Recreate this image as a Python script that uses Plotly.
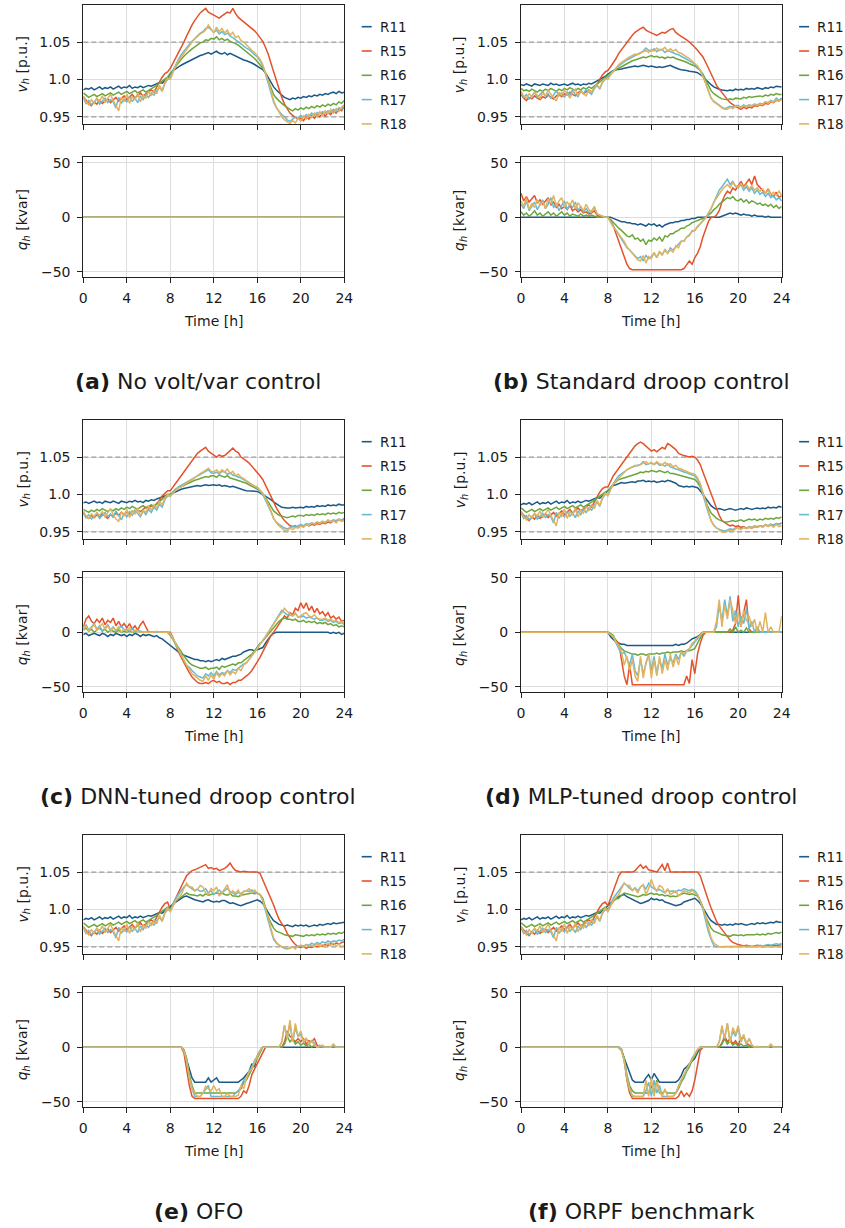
import plotly.graph_objects as go

# ---------------- data ----------------
NAMES = ["R11", "R15", "R16", "R17", "R18"]
COLORS = ["#1b5a87", "#e4522b", "#6ca63b", "#66bad4", "#e2b35f"]

T_MORN = [i * 0.25 for i in range(32)]        # 0 .. 7.75 h
T_DAY = [8 + i * 0.25 for i in range(65)]     # 8 .. 24 h
T_FULL = T_MORN + T_DAY
T_ENDS = [0, 24]
T_START = [0]
Q_NONE = [0, 0]
Q_START = [0]
V_LIMITS = [1.05, 0.95]

# voltages in milli-p.u. ; shared morning (no reactive power before 8 h): panels a, d, e, f
VM_R11 = [986,988,987,989,986,988,990,987,989,988,990,987,989,991,988,990,
          989,992,988,990,989,991,989,990,992,991,993,994,996,995,998,1001]
VM_R15 = [977,972,968,965,970,967,972,968,971,974,969,973,976,971,975,978,
          973,977,980,975,979,982,978,981,984,986,983,990,997,1003,1008,1010]
VM_R16 = [982,979,976,978,980,977,979,981,978,980,982,979,981,983,980,982,
          984,981,983,985,982,984,986,983,985,987,990,992,995,998,1000,1003]
VM_R17 = [975,968,972,966,970,974,967,971,975,969,973,970,962,976,968,974,
          970,977,971,975,969,978,973,980,976,982,979,985,990,984,995,1000]
VM_R18 = [978,970,966,973,968,975,971,978,969,974,980,972,965,958,976,970,
          981,968,977,973,982,970,979,975,984,978,986,981,992,985,996,1002]

# (a) day
VA_R11 = [1008,1012,1014,1017,1019,1021,1023,1025,1027,1029,1030,1032,1033,1035,1036,1034,
          1036,1038,1035,1034,1036,1033,1035,1033,1032,1029,1027,1026,1025,1024,1022,1020,
          1018,1016,1013,1009,1003,996,990,986,982,979,976,975,973,975,974,976,
          975,977,976,978,977,979,978,980,979,981,980,982,983,981,984,982,983]
VA_R15 = [1015,1022,1028,1034,1042,1050,1058,1066,1073,1079,1084,1089,1092,1095,1090,1088,
          1086,1084,1082,1085,1087,1090,1089,1095,1088,1083,1080,1077,1075,1072,1069,1065,
          1061,1056,1051,1043,1034,1022,1010,997,986,976,967,960,955,952,950,947,
          948,945,950,947,952,948,953,950,955,951,956,953,958,955,960,958,964]
VA_R16 = [1008,1013,1018,1023,1027,1031,1035,1038,1041,1044,1046,1049,1050,1053,1052,1055,
          1054,1057,1053,1055,1052,1054,1051,1050,1048,1046,1043,1041,1038,1035,1031,1028,
          1024,1020,1015,1008,998,988,980,975,971,968,965,962,960,958,961,959,
          962,960,963,961,964,962,965,963,966,964,967,965,968,966,970,968,972]
VA_R17 = [1003,1012,1020,1027,1033,1038,1043,1047,1051,1055,1058,1062,1064,1068,1070,1066,
          1063,1066,1061,1064,1060,1062,1058,1056,1053,1050,1048,1045,1042,1040,1036,1033,
          1030,1025,1018,1008,995,982,970,962,957,953,950,946,944,947,950,948,
          952,949,953,951,955,952,956,954,957,955,958,956,960,957,962,960,965]
VA_R18 = [1000,1010,1018,1025,1030,1036,1041,1045,1050,1054,1058,1061,1063,1066,1073,1068,
          1062,1070,1064,1068,1062,1066,1059,1063,1056,1058,1052,1050,1046,1043,1039,1036,
          1032,1027,1020,1010,998,985,972,963,957,950,946,943,941,945,942,948,
          944,951,947,953,949,955,950,957,952,958,954,960,955,961,957,963,966]

# (b) morning + day
VBM_R11 = [993,992,994,993,991,994,993,992,994,993,992,995,993,994,992,993,
           994,992,993,995,993,994,992,994,993,995,994,996,997,999,1001,1004]
VBM_R15 = [980,975,972,976,974,978,975,973,977,975,979,976,974,978,980,977,
           981,979,983,980,978,982,985,981,984,986,983,988,993,1000,1006,1010]
VBM_R16 = [988,985,986,984,987,985,983,986,984,987,985,988,986,984,987,985,
           988,986,989,987,985,988,986,989,987,990,988,991,994,997,1000,1003]
VBM_R17 = [982,976,980,974,978,983,976,980,984,977,981,975,979,985,978,982,
           976,983,979,986,980,977,984,981,987,983,980,988,992,987,996,1000]
VBM_R18 = [984,978,975,981,977,983,979,975,982,978,985,980,976,971,983,979,
           986,980,975,983,987,979,984,981,978,986,983,989,993,988,997,1001]
VB_R11 = [1007,1010,1012,1013,1013,1014,1015,1016,1016,1017,1018,1017,1018,1019,1018,1017,
          1018,1017,1016,1017,1016,1017,1018,1019,1017,1015,1014,1013,1013,1012,1011,1011,
          1010,1009,1007,1004,1000,996,993,990,988,987,986,985,985,986,985,987,
          986,987,986,988,987,988,987,989,988,987,989,988,990,989,991,990,990]
VB_R15 = [1012,1017,1022,1028,1035,1040,1045,1050,1055,1059,1063,1066,1068,1070,1066,1064,
          1062,1060,1059,1061,1063,1062,1065,1067,1068,1063,1060,1058,1055,1053,1050,1047,
          1043,1039,1035,1030,1023,1016,1008,1000,992,987,983,978,973,969,966,964,
          962,960,963,961,963,962,965,964,966,965,968,967,970,969,972,971,975]
VB_R16 = [1005,1008,1011,1013,1015,1017,1020,1022,1023,1025,1026,1027,1028,1030,1029,1031,
          1032,1030,1031,1029,1030,1028,1030,1029,1030,1028,1027,1026,1025,1023,1021,1020,
          1018,1015,1012,1007,1000,992,985,981,978,976,974,973,973,974,973,975,
          975,974,976,975,977,976,977,978,978,977,979,978,980,979,981,980,980]
VB_R17 = [1003,1008,1012,1015,1018,1021,1024,1026,1028,1030,1032,1034,1035,1038,1042,1039,
          1038,1041,1037,1040,1040,1036,1039,1037,1036,1034,1033,1031,1030,1028,1026,1023,
          1020,1017,1013,1005,995,985,975,971,968,965,963,961,962,964,963,965,
          965,963,966,964,966,965,967,966,968,967,970,969,972,970,975,972,975]
VB_R18 = [1000,1006,1011,1015,1020,1023,1026,1028,1030,1032,1034,1033,1035,1037,1039,1036,
          1040,1038,1042,1039,1040,1043,1038,1041,1038,1040,1036,1035,1032,1030,1028,1025,
          1022,1018,1012,1004,995,985,975,970,968,965,962,960,960,963,961,964,
          964,962,965,963,966,964,967,965,967,966,970,968,971,969,973,971,973]

# (c) morning + day
VCM_R11 = [989,990,988,990,991,989,990,988,991,990,989,991,990,988,991,990,
           989,991,990,992,990,991,989,992,991,993,992,994,995,996,998,1000]
VCM_R15 = [975,970,968,972,969,973,970,974,971,968,973,971,975,972,976,973,
           977,974,978,976,979,977,980,983,981,985,984,988,992,998,1002,1005]
VCM_R16 = [980,978,976,979,977,980,978,981,979,977,980,978,981,979,982,980,
           983,981,984,982,980,983,985,982,984,986,984,987,990,993,996,1000]
VCM_R17 = [976,969,973,967,971,975,968,972,976,970,974,969,978,972,966,975,
           970,977,972,979,974,970,978,973,980,976,983,979,987,983,993,998]
VCM_R18 = [978,971,968,974,970,976,972,977,970,975,981,973,967,964,977,971,
           980,969,978,974,982,971,979,976,984,979,986,982,991,986,995,1000]
VC_R11 = [1000,1002,1004,1005,1007,1008,1009,1010,1011,1011,1012,1011,1012,1013,1012,1013,
          1013,1012,1013,1011,1012,1011,1010,1011,1010,1009,1007,1006,1005,1005,1004,1004,
          1004,1002,1000,998,995,993,990,987,985,983,982,982,982,983,982,983,
          983,982,984,983,984,983,985,984,985,984,986,985,986,985,987,986,986]
VC_R15 = [1005,1010,1015,1020,1025,1030,1035,1040,1045,1050,1055,1058,1060,1063,1058,1055,
          1052,1050,1053,1051,1052,1055,1059,1062,1058,1056,1050,1048,1045,1042,1038,1034,
          1030,1025,1020,1013,1005,998,990,982,975,970,965,961,958,957,958,956,
          958,957,960,958,960,959,961,960,962,961,963,962,965,964,966,965,968]
VC_R16 = [1000,1004,1007,1009,1010,1012,1014,1016,1018,1019,1020,1021,1022,1024,1023,1025,
          1025,1023,1026,1024,1023,1025,1022,1021,1020,1019,1018,1016,1015,1013,1011,1010,
          1008,1005,1000,996,990,984,978,975,972,971,970,969,970,971,970,972,
          972,971,973,972,973,972,974,973,974,973,975,974,975,974,976,975,976]
VC_R17 = [998,1003,1007,1010,1012,1014,1016,1018,1020,1022,1024,1026,1028,1030,1033,1029,
          1028,1030,1027,1031,1030,1027,1029,1026,1025,1023,1022,1020,1018,1016,1014,1011,
          1008,1005,1000,993,985,977,968,963,960,957,955,954,955,957,956,958,
          960,958,961,960,962,961,963,962,964,963,965,964,966,965,967,966,968]
VC_R18 = [997,1002,1006,1009,1010,1013,1016,1018,1020,1023,1025,1028,1030,1032,1035,1031,
          1030,1033,1029,1033,1030,1034,1028,1031,1025,1027,1023,1021,1018,1016,1013,1011,
          1010,1006,1002,995,987,978,968,962,958,955,952,951,955,953,956,955,
          958,956,960,958,962,960,963,961,964,962,966,963,965,962,967,964,965]

# (d) day
VD_R11 = [1005,1009,1012,1013,1015,1016,1015,1016,1016,1017,1016,1018,1018,1019,1017,1018,
          1017,1018,1016,1017,1018,1017,1019,1018,1017,1015,1012,1011,1010,1011,1010,1011,
          1010,1009,1005,1000,995,990,985,982,980,981,980,979,980,981,980,979,
          980,981,980,982,981,980,981,982,981,982,981,983,982,983,982,984,983]
VD_R15 = [1010,1018,1025,1030,1035,1040,1045,1050,1055,1060,1065,1068,1070,1068,1065,1062,
          1058,1060,1057,1060,1063,1061,1068,1066,1063,1060,1055,1053,1052,1051,1050,1051,
          1050,1046,1040,1030,1020,1010,1000,990,980,972,965,962,960,958,959,957,
          958,956,957,955,956,955,957,956,958,957,959,958,960,959,961,960,962]
VD_R16 = [1005,1010,1014,1017,1020,1021,1022,1024,1025,1026,1027,1028,1030,1029,1031,1030,
          1032,1031,1030,1032,1030,1029,1031,1028,1028,1027,1026,1025,1025,1023,1022,1021,
          1020,1016,1010,1000,990,982,975,971,968,966,964,963,963,964,965,964,
          965,966,964,966,967,966,967,965,967,966,968,967,968,967,969,968,970]
VD_R17 = [1000,1008,1015,1020,1025,1028,1031,1033,1035,1037,1038,1039,1040,1044,1040,1041,
          1042,1040,1043,1039,1040,1038,1041,1037,1035,1034,1033,1031,1030,1029,1027,1026,
          1025,1020,1012,1000,985,975,965,959,955,953,952,951,952,954,953,955,
          955,954,956,955,957,956,958,957,958,957,959,958,960,959,961,960,962]
VD_R18 = [998,1006,1014,1018,1022,1026,1030,1033,1035,1037,1039,1038,1040,1042,1044,1041,
          1043,1040,1044,1041,1040,1043,1039,1041,1037,1039,1035,1034,1032,1030,1029,1028,
          1027,1022,1015,1003,990,978,965,958,955,952,950,949,950,952,951,954,
          955,953,956,954,957,955,958,956,958,956,960,957,959,956,960,957,958]

# (e) day
VE_R11 = [1005,1008,1010,1012,1015,1017,1018,1016,1015,1013,1012,1011,1010,1012,1013,1011,
          1010,1011,1010,1012,1012,1010,1008,1009,1007,1006,1005,1007,1008,1009,1010,1012,
          1013,1011,1008,1002,995,990,985,982,980,979,978,979,978,977,979,978,
          979,978,979,977,978,979,978,980,979,980,981,980,982,981,982,983,983]
VE_R15 = [1000,1008,1015,1022,1030,1038,1045,1049,1052,1053,1055,1057,1058,1060,1055,1056,
          1054,1055,1052,1053,1055,1058,1062,1056,1052,1051,1050,1051,1050,1050,1050,1050,
          1050,1048,1040,1030,1022,1014,1006,996,987,981,976,968,962,957,953,950,
          949,951,948,950,949,951,950,952,951,953,952,954,953,955,954,956,957]
VE_R16 = [1000,1006,1011,1014,1017,1020,1022,1020,1020,1019,1018,1020,1018,1021,1019,1020,
          1020,1022,1021,1022,1020,1019,1021,1018,1018,1017,1019,1020,1020,1021,1022,1021,
          1022,1020,1015,1003,990,982,975,971,970,968,966,965,965,964,966,965,
          965,964,966,965,966,965,967,966,967,966,968,967,968,967,969,968,970]
VE_R17 = [998,1007,1015,1020,1025,1030,1033,1030,1028,1025,1027,1024,1025,1028,1022,1025,
          1020,1023,1026,1022,1025,1028,1024,1022,1020,1023,1021,1024,1025,1024,1026,1023,
          1022,1020,1012,1000,985,972,960,955,952,950,948,947,948,950,949,951,
          952,951,953,952,955,953,956,954,957,955,958,956,958,957,959,958,960]
VE_R18 = [997,1005,1012,1016,1020,1028,1035,1030,1030,1025,1027,1032,1030,1022,1020,1028,
          1025,1030,1018,1022,1028,1033,1020,1025,1022,1026,1018,1024,1025,1028,1022,1026,
          1022,1020,1012,1002,990,975,962,956,952,950,950,948,948,950,947,951,
          952,950,953,951,952,950,954,951,953,950,955,952,955,951,954,950,952]

# (f) day
VF_R11 = [1005,1009,1012,1015,1017,1019,1020,1017,1015,1013,1012,1010,1008,1009,1010,1012,
          1015,1013,1014,1012,1013,1010,1009,1008,1007,1005,1006,1007,1010,1011,1012,1014,
          1015,1012,1008,1002,995,990,985,982,980,980,979,980,979,980,979,981,
          980,981,980,979,980,981,980,982,981,982,981,982,983,982,984,983,983]
VF_R15 = [1005,1015,1025,1035,1045,1050,1050,1050,1050,1050,1052,1056,1060,1055,1058,1053,
          1052,1050,1050,1055,1060,1052,1062,1050,1050,1050,1050,1050,1050,1050,1050,1050,
          1050,1050,1045,1033,1022,1012,1002,992,984,978,973,968,963,959,956,954,
          953,952,951,952,951,950,951,952,951,950,951,952,951,952,951,952,953]
VF_R16 = [1000,1006,1011,1014,1015,1019,1022,1021,1020,1019,1018,1017,1018,1020,1019,1021,
          1022,1020,1021,1019,1020,1018,1019,1017,1018,1017,1019,1020,1022,1021,1020,1021,
          1020,1018,1012,1003,990,982,975,971,970,968,966,965,965,964,966,965,
          965,966,965,966,966,965,966,967,966,967,966,968,967,968,969,968,970]
VF_R17 = [998,1007,1015,1020,1025,1030,1035,1032,1028,1026,1029,1025,1030,1033,1027,1035,
          1030,1028,1025,1027,1025,1022,1026,1024,1025,1023,1026,1025,1028,1026,1025,1027,
          1025,1020,1012,1000,985,970,960,952,950,950,950,950,951,950,950,951,
          951,950,950,951,950,951,950,951,952,951,952,953,952,953,954,953,955]
VF_R18 = [997,1005,1012,1016,1020,1028,1035,1032,1032,1025,1028,1022,1030,1033,1020,1028,
          1040,1030,1025,1032,1030,1022,1028,1020,1022,1025,1018,1022,1025,1024,1022,1026,
          1022,1020,1012,1002,990,975,962,955,952,950,950,950,950,950,950,950,
          950,951,950,950,951,950,950,951,950,951,950,951,951,950,951,950,950]

# reactive power in kvar
QBM_R15 = [22,15,19,14,17,20,13,16,12,15,18,11,14,9,12,8,
           10,7,11,6,8,5,7,4,5,3,4,6,2,1,0,0]
QBM_R16 = [5,2,4,1,3,6,2,4,1,3,5,2,4,1,3,5,
           2,4,1,3,2,1,3,1,2,1,2,1,0,0,0,0]
QBM_R17 = [12,8,15,6,10,14,7,11,16,8,12,18,9,13,6,11,
           15,7,12,9,14,6,10,5,8,4,6,9,3,2,1,0]
QBM_R18 = [15,10,18,7,13,9,16,11,14,8,17,12,20,10,15,18,
           9,14,11,16,8,13,10,6,12,7,5,10,3,2,1,0]
QB_R11 = [0,0,-1,-2,-3,-4,-4,-5,-5,-6,-6,-7,-6,-7,-8,-6,
          -7,-6,-8,-7,-9,-7,-6,-5,-5,-4,-4,-3,-3,-2,-2,-1,
          -1,0,0,0,0,0,0,0,0,0,1,2,3,4,3,4,
          3,2,3,2,2,1,2,1,1,1,0,1,0,0,0,0,0]
QB_R15 = [0,-3,-8,-15,-22,-30,-37,-43,-47,-48,-48,-48,-48,-48,-48,-48,
          -48,-48,-48,-48,-48,-48,-48,-48,-48,-48,-48,-48,-47,-44,-40,-43,
          -37,-33,-27,-18,-10,-4,0,0,2,6,14,20,24,22,27,25,
          29,33,28,32,35,30,38,30,27,24,22,26,21,19,23,18,20]
QB_R16 = [0,-2,-5,-8,-10,-12,-15,-17,-18,-16,-20,-19,-22,-20,-25,-21,
          -22,-19,-21,-18,-22,-17,-18,-15,-15,-13,-12,-10,-10,-8,-7,-5,
          -4,-3,-2,-1,0,2,4,7,9,12,14,16,18,17,19,16,
          15,17,14,16,13,15,14,12,13,11,12,10,12,9,11,8,10]
QB_R17 = [0,-4,-8,-13,-16,-20,-24,-28,-30,-33,-35,-38,-36,-40,-35,-38,
          -36,-33,-37,-32,-34,-30,-33,-28,-30,-27,-25,-22,-22,-18,-16,-13,
          -12,-9,-7,-4,-1,3,8,14,20,25,28,32,35,30,33,28,
          27,30,25,28,24,27,22,25,21,23,19,22,18,20,16,18,15]
QB_R18 = [0,-5,-9,-12,-15,-19,-22,-27,-30,-33,-35,-39,-40,-35,-42,-36,
          -38,-32,-37,-31,-35,-29,-33,-30,-32,-26,-28,-22,-22,-18,-17,-12,
          -12,-8,-6,-3,-1,4,8,14,18,22,25,28,30,27,32,29,
          28,31,27,30,26,29,25,27,24,26,22,25,21,23,20,24,20]

QCM_R11 = [-2,-1,-3,-2,-1,-2,-3,-1,-2,-4,-2,-3,-1,-2,-3,-2,
           -4,-2,-3,-1,-2,-4,-2,-3,-2,-3,-4,-3,-5,-6,-8,-10]
QCM_R15 = [5,12,15,10,8,12,9,13,7,11,9,13,6,10,5,8,
           4,8,3,6,2,7,10,5,0,0,0,0,0,0,0,0]
QCM_R16 = [2,4,1,3,0,2,4,1,3,0,2,1,0,2,0,1,
           0,1,0,0,1,0,0,0,0,0,0,0,0,0,0,0]
QCM_R17 = [3,7,2,5,8,3,6,1,4,7,2,5,1,4,6,2,
           3,1,4,0,2,1,0,0,0,0,0,0,0,0,0,0]
QCM_R18 = [2,6,1,4,7,2,5,8,3,6,1,4,2,5,0,3,
           1,4,0,2,1,0,0,0,0,0,0,1,0,0,0,0]
QC_R11 = [-12,-14,-16,-18,-20,-21,-22,-23,-24,-25,-25,-26,-26,-27,-26,-27,
          -26,-25,-26,-24,-25,-24,-23,-22,-22,-21,-20,-18,-17,-16,-16,-17,
          -16,-15,-14,-10,-6,-3,-1,0,0,0,0,0,0,0,0,0,
          0,0,0,0,0,0,0,0,0,0,0,-1,0,-1,0,-2,-1]
QC_R15 = [0,-5,-12,-18,-23,-28,-33,-37,-41,-44,-46,-47,-47,-46,-47,-45,
          -44,-46,-45,-47,-47,-46,-48,-46,-46,-44,-44,-42,-40,-38,-35,-31,
          -28,-23,-18,-13,-8,-3,0,4,8,11,15,13,18,16,22,20,
          27,22,27,20,24,18,22,17,19,15,18,13,15,12,14,10,11]
QC_R16 = [-3,-6,-10,-14,-18,-22,-25,-28,-30,-31,-32,-33,-33,-32,-34,-33,
          -33,-32,-34,-31,-32,-31,-30,-29,-30,-28,-28,-26,-24,-22,-20,-17,
          -13,-10,-8,-5,-2,2,5,8,10,12,13,12,12,11,12,10,
          10,11,9,10,9,10,8,9,8,9,7,8,6,7,5,6,5]
QC_R17 = [-2,-7,-12,-17,-22,-26,-30,-32,-35,-38,-40,-41,-42,-38,-40,-37,
          -40,-36,-39,-37,-38,-35,-37,-34,-35,-33,-31,-29,-28,-25,-22,-18,
          -15,-11,-8,-4,0,4,8,12,15,20,18,16,16,15,17,14,
          14,15,13,14,13,12,13,11,11,12,10,11,9,10,8,9,7]
QC_R18 = [-1,-6,-10,-16,-20,-25,-30,-34,-38,-40,-42,-44,-45,-40,-44,-39,
          -43,-37,-41,-38,-40,-35,-39,-36,-38,-33,-35,-30,-28,-25,-22,-18,
          -15,-11,-8,-4,0,4,8,12,15,18,22,19,17,15,18,14,
          15,17,18,15,14,16,13,12,12,13,11,12,10,11,9,10,8]

QD_R11 = [0,-4,-7,-9,-10,-11,-11,-12,-12,-12,-12,-12,-12,-12,-12,-12,
          -12,-12,-12,-12,-12,-12,-12,-12,-12,-11,-12,-11,-11,-10,-8,-6,
          -5,-4,-2,0,0,0,0,0,0,0,0,0,0,0,0,0,
          0,0,0,0,0,0,0,0,0,0,0,0,0,0,0,0,0]
QD_R15 = [0,-2,-5,-8,-10,-25,-40,-48,-30,-48,-48,-48,-48,-48,-48,-48,
          -48,-48,-48,-48,-48,-48,-48,-48,-48,-48,-48,-48,-48,-40,-47,-25,
          -38,-20,-10,-3,0,0,0,0,0,0,0,0,0,0,2,8,
          34,5,18,30,3,0,0,0,0,0,0,0,0,0,0,0,0]
QD_R16 = [0,-1,-3,-8,-12,-15,-17,-18,-19,-20,-20,-21,-20,-20,-21,-20,
          -20,-20,-19,-20,-19,-19,-18,-19,-18,-18,-18,-17,-18,-17,-17,-16,
          -15,-10,-5,-1,0,0,0,0,0,0,0,0,0,3,0,5,
          0,2,0,4,0,0,0,0,0,0,0,0,0,0,0,0,0]
QD_R17 = [0,-2,-4,-10,-15,-20,-18,-25,-30,-20,-35,-40,-25,-38,-30,-20,
          -35,-22,-38,-25,-33,-20,-30,-24,-28,-20,-25,-18,-22,-17,-15,-12,
          -10,-6,-3,0,0,0,0,0,5,25,10,30,15,33,10,20,
          5,15,8,22,3,10,0,5,0,0,0,0,0,0,0,0,0]
QD_R18 = [0,-2,-4,-9,-12,-18,-30,-22,-35,-25,-40,-45,-22,-42,-28,-20,
          -42,-25,-40,-22,-38,-25,-35,-20,-32,-22,-30,-18,-20,-17,-15,-10,
          -8,-5,-2,0,0,0,0,0,10,30,5,25,12,30,20,8,
          18,5,20,10,15,5,12,0,10,0,18,0,5,0,0,0,15]

QE_R11 = [0,0,0,0,0,-3,-12,-20,-28,-32,-32,-32,-32,-32,-28,-32,
          -30,-28,-32,-32,-32,-32,-32,-32,-32,-32,-30,-28,-25,-22,-15,-18,
          -8,-3,0,0,0,0,0,0,0,0,0,0,0,0,0,0,
          0,0,0,0,0,0,0,0,0,0,0,0,0,0,0,0,0]
QE_R15 = [0,0,0,0,0,-5,-20,-35,-45,-47,-47,-47,-47,-47,-47,-47,
          -47,-47,-47,-47,-47,-47,-47,-47,-47,-47,-45,-40,-42,-35,-25,-20,
          -15,-10,-5,0,0,0,0,0,0,0,5,15,10,8,5,8,
          5,8,3,6,5,8,2,0,0,0,0,0,0,0,0,0,0]
QE_R16 = [0,0,0,0,0,-2,-10,-25,-35,-42,-42,-42,-42,-42,-42,-42,
          -42,-42,-42,-42,-42,-42,-42,-42,-42,-40,-38,-32,-30,-25,-20,-15,
          -10,-5,0,0,0,0,0,0,0,0,3,10,5,8,3,5,
          2,4,1,3,0,2,0,0,0,0,0,0,0,0,0,0,0]
QE_R17 = [0,0,0,0,0,-3,-12,-28,-38,-45,-45,-45,-42,-38,-35,-45,
          -45,-45,-45,-45,-45,-45,-45,-45,-42,-40,-36,-30,-28,-22,-18,-12,
          -8,-3,0,0,0,0,0,0,0,5,20,8,22,5,18,10,
          12,5,8,3,6,4,0,2,0,0,0,0,2,0,0,0,0]
QE_R18 = [0,0,0,0,0,-3,-12,-28,-38,-42,-45,-45,-42,-36,-38,-40,
          -35,-40,-38,-45,-45,-42,-45,-45,-45,-44,-35,-38,-28,-22,-20,-14,
          -8,-3,0,0,0,0,0,0,0,5,20,8,25,5,22,10,
          15,5,8,3,6,2,0,1,2,0,0,0,3,0,0,0,0]

QF_R11 = [0,0,0,0,0,-3,-10,-18,-25,-30,-32,-32,-32,-32,-28,-25,
          -30,-24,-28,-32,-32,-32,-32,-32,-32,-32,-30,-26,-20,-18,-15,-12,
          -10,-5,0,0,0,0,0,0,0,0,0,0,0,0,0,0,
          0,0,0,0,0,0,0,0,0,0,0,0,0,0,0,0,0]
QF_R15 = [0,0,0,0,0,-2,-12,-30,-42,-47,-47,-47,-47,-47,-47,-47,
          -47,-47,-47,-47,-47,-47,-47,-47,-47,-47,-45,-40,-45,-42,-45,-40,
          -30,-15,-3,0,0,0,0,0,0,0,4,10,5,8,3,6,
          2,8,10,4,2,0,0,0,0,0,0,0,0,0,0,0,0]
QF_R16 = [0,0,0,0,0,-2,-10,-25,-35,-40,-42,-42,-42,-42,-42,-42,
          -35,-42,-30,-42,-42,-40,-42,-42,-42,-42,-38,-32,-28,-22,-18,-12,
          -8,-3,0,0,0,0,0,0,0,0,3,8,3,6,2,4,
          1,3,1,2,0,1,0,0,0,0,0,0,0,0,0,0,0]
QF_R17 = [0,0,0,0,0,-3,-12,-28,-38,-45,-45,-45,-45,-45,-40,-32,
          -45,-30,-42,-35,-45,-45,-45,-45,-45,-42,-36,-30,-26,-20,-16,-10,
          -6,-2,0,0,0,0,0,0,0,5,18,8,22,5,15,10,
          18,5,10,3,8,2,0,0,0,0,0,0,2,0,0,0,0]
QF_R18 = [0,0,0,0,0,-3,-12,-28,-38,-44,-45,-45,-45,-45,-30,-45,
          -28,-45,-32,-40,-45,-38,-45,-45,-45,-42,-35,-30,-25,-20,-15,-10,
          -6,-2,0,0,0,0,0,0,0,5,20,8,22,4,18,12,
          20,5,12,3,8,2,0,1,0,0,0,0,3,0,0,0,0]

CAPTIONS = ["<b>(a)</b> No volt/var control", "<b>(b)</b> Standard droop control",
            "<b>(c)</b> DNN-tuned droop control", "<b>(d)</b> MLP-tuned droop control",
            "<b>(e)</b> OFO", "<b>(f)</b> ORPF benchmark"]

# ---------------- assemble ----------------
def chk(name, arr, n):
    if len(arr) != n:
        raise ValueError(f"{name} has {len(arr)} values, expected {n}")
    return arr

g = globals()
for nm in list(g):
    if nm.startswith(("VM_", "VBM_", "VCM_", "QBM_", "QCM_")):
        chk(nm, g[nm], 32)
    elif nm[:3] in ("VA_", "VB_", "VC_", "VD_", "VE_", "VF_", "QB_", "QC_", "QD_", "QE_", "QF_"):
        chk(nm, g[nm], 65)

def vfull(m, d):
    return [x / 1000 for x in m + d]

V_SETS = [
    [vfull(VM_R11, VA_R11), vfull(VM_R15, VA_R15), vfull(VM_R16, VA_R16), vfull(VM_R17, VA_R17), vfull(VM_R18, VA_R18)],
    [vfull(VBM_R11, VB_R11), vfull(VBM_R15, VB_R15), vfull(VBM_R16, VB_R16), vfull(VBM_R17, VB_R17), vfull(VBM_R18, VB_R18)],
    [vfull(VCM_R11, VC_R11), vfull(VCM_R15, VC_R15), vfull(VCM_R16, VC_R16), vfull(VCM_R17, VC_R17), vfull(VCM_R18, VC_R18)],
    [vfull(VM_R11, VD_R11), vfull(VM_R15, VD_R15), vfull(VM_R16, VD_R16), vfull(VM_R17, VD_R17), vfull(VM_R18, VD_R18)],
    [vfull(VM_R11, VE_R11), vfull(VM_R15, VE_R15), vfull(VM_R16, VE_R16), vfull(VM_R17, VE_R17), vfull(VM_R18, VE_R18)],
    [vfull(VM_R11, VF_R11), vfull(VM_R15, VF_R15), vfull(VM_R16, VF_R16), vfull(VM_R17, VF_R17), vfull(VM_R18, VF_R18)],
]
TD0 = T_START + T_DAY
Q_SETS = [
    [(T_ENDS, Q_NONE)] * 5,
    [(TD0, Q_START + QB_R11), (T_FULL, QBM_R15 + QB_R15), (T_FULL, QBM_R16 + QB_R16),
     (T_FULL, QBM_R17 + QB_R17), (T_FULL, QBM_R18 + QB_R18)],
    [(T_FULL, QCM_R11 + QC_R11), (T_FULL, QCM_R15 + QC_R15), (T_FULL, QCM_R16 + QC_R16),
     (T_FULL, QCM_R17 + QC_R17), (T_FULL, QCM_R18 + QC_R18)],
    [(TD0, Q_START + s) for s in (QD_R11, QD_R15, QD_R16, QD_R17, QD_R18)],
    [(TD0, Q_START + s) for s in (QE_R11, QE_R15, QE_R16, QE_R17, QE_R18)],
    [(TD0, Q_START + s) for s in (QF_R11, QF_R15, QF_R16, QF_R17, QF_R18)],
]

# ---------------- layout ----------------
W, H = 845, 1228
FONT = "DejaVu Sans"
TXT = "#1a1a1a"
COL_L = [83.3, 521.0]
COL_R = [344.3, 781.7]
V_TOP, V_BOT, Q_TOP, Q_BOT = 4.7, 124.3, 157.3, 277.3
ROW_OFF = 415.0
CAP_X = [198, 641]

def fx(p): return p / W
def fy(p): return 1 - p / H

fig = go.Figure()
layout = dict(width=W, height=H, margin=dict(l=0, r=0, t=0, b=0, pad=0, autoexpand=False),
              autosize=False, template="none",
              paper_bgcolor="white", plot_bgcolor="white", showlegend=False,
              font=dict(family=FONT, size=14, color=TXT))
shapes, annos = [], []

axis_common = dict(showline=True, linecolor="#222222", linewidth=1, mirror=True, automargin=False,
                   showgrid=True, gridcolor="#dddddd", gridwidth=1, zeroline=False,
                   ticks="outside", ticklen=5, tickwidth=1, tickcolor="#222222",
                   tickfont=dict(family=FONT, size=14, color=TXT))

for p in range(6):
    r, c = divmod(p, 2)
    off = ROW_OFF * r
    kv, kq = 2 * p + 1, 2 * p + 2
    sv, sq = ("" if kv == 1 else str(kv)), str(kq)
    xd = [fx(COL_L[c]), fx(COL_R[c])]
    layout["xaxis" + sv] = dict(axis_common, domain=xd, anchor="y" + sv, range=[0, 24],
                                tickvals=[0, 4, 8, 12, 16, 20, 24], showticklabels=False)
    layout["yaxis" + sv] = dict(axis_common, domain=[fy(V_BOT + off), fy(V_TOP + off)], anchor="x" + sv,
                                range=[0.94, 1.1], tickvals=[0.95, 1.0, 1.05],
                                ticktext=["0.95", "1.0", "1.05"], ticklabelstandoff=4)
    layout["xaxis" + sq] = dict(axis_common, domain=xd, anchor="y" + sq, range=[0, 24],
                                tickvals=[0, 4, 8, 12, 16, 20, 24], ticklabelstandoff=3)
    layout["yaxis" + sq] = dict(axis_common, domain=[fy(Q_BOT + off), fy(Q_TOP + off)], anchor="x" + sq,
                                range=[-55, 55], tickvals=[-50, 0, 50], ticklabelstandoff=4)

    for i in range(5):
        fig.add_trace(go.Scatter(x=T_FULL, y=V_SETS[p][i], mode="lines", xaxis="x" + sv, yaxis="y" + sv,
                                 line=dict(color=COLORS[i], width=1.5), hoverinfo="skip"))
    for i in range(5):
        tx, qy = Q_SETS[p][i]
        fig.add_trace(go.Scatter(x=tx, y=qy, mode="lines", xaxis="x" + sq, yaxis="y" + sq,
                                 line=dict(color=COLORS[i], width=1.5), hoverinfo="skip"))

    for lim in V_LIMITS:
        shapes.append(dict(type="line", xref="x" + sv, yref="y" + sv, x0=T_ENDS[0], x1=T_ENDS[1],
                           y0=lim, y1=lim, layer="between",
                           line=dict(color="#9e9e9e", width=1.3, dash="5px,3px")))

    # legend
    for i, nm in enumerate(NAMES):
        yy = 26.7 + 24.3 * i + off
        shapes.append(dict(type="line", xref="paper", yref="paper",
                           x0=fx(COL_R[c] + 17.4), x1=fx(COL_R[c] + 27.4), y0=fy(yy), y1=fy(yy),
                           line=dict(color=COLORS[i], width=1.6)))
        annos.append(dict(text=nm, xref="paper", yref="paper", x=fx(COL_R[c] + 34.5), y=fy(yy),
                          xanchor="left", yanchor="middle", showarrow=False, borderpad=0,
                          font=dict(family=FONT, size=13.5, color=TXT)))

    # axis titles
    ylx = fx(COL_L[c] - 60.3)
    annos.append(dict(text="<i>v</i><sub><i>h</i></sub> [p.u.]", xref="paper", yref="paper",
                      x=ylx, y=fy((V_TOP + V_BOT) / 2 + off), textangle=-90, showarrow=False,
                      xanchor="center", yanchor="middle", font=dict(family=FONT, size=14, color=TXT)))
    annos.append(dict(text="<i>q</i><sub><i>h</i></sub> [kvar]", xref="paper", yref="paper",
                      x=ylx, y=fy((Q_TOP + Q_BOT) / 2 + 3 + off), textangle=-90, showarrow=False,
                      xanchor="center", yanchor="middle", font=dict(family=FONT, size=14, color=TXT)))
    annos.append(dict(text="Time [h]", xref="paper", yref="paper",
                      x=fx((COL_L[c] + COL_R[c]) / 2), y=fy(321 + off), showarrow=False,
                      xanchor="center", yanchor="middle", font=dict(family=FONT, size=14, color=TXT)))
    annos.append(dict(text=CAPTIONS[p], xref="paper", yref="paper",
                      x=fx(CAP_X[c]), y=fy(381 + off), showarrow=False,
                      xanchor="center", yanchor="middle", font=dict(family=FONT, size=22, color=TXT)))

layout["shapes"] = shapes
layout["annotations"] = annos
fig.update_layout(**layout)
fig.write_html("out.html")
